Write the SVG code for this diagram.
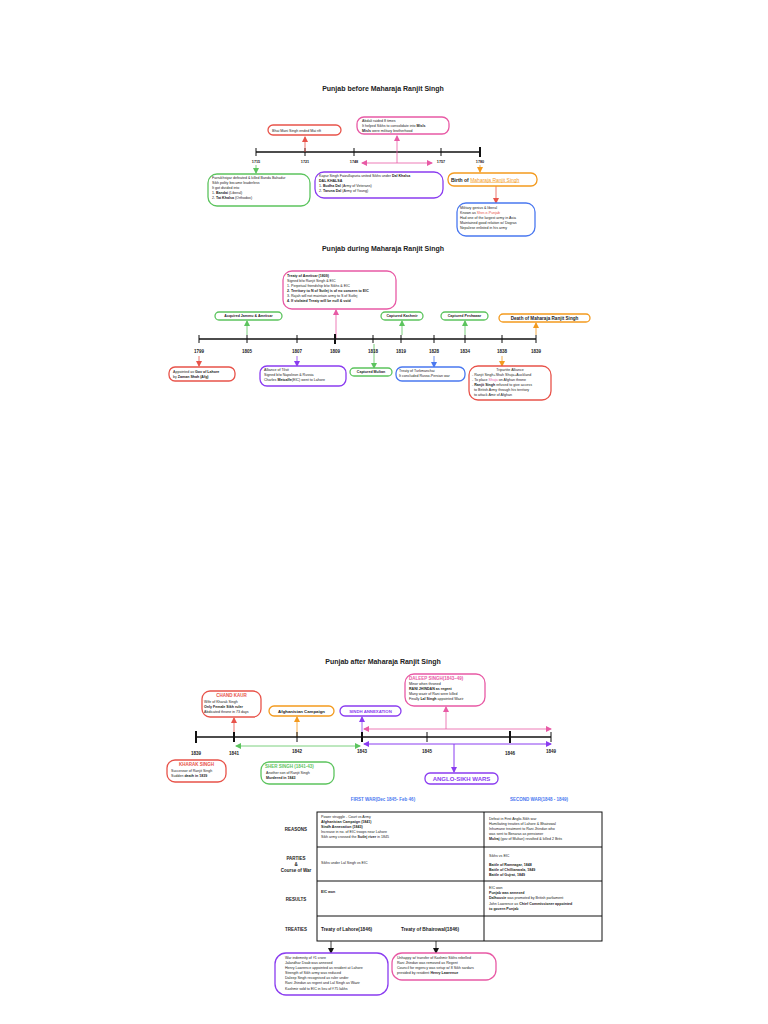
<svg xmlns="http://www.w3.org/2000/svg" width="768" height="1024" viewBox="0 0 768 1024">
<defs>
<style>
text{font-family:"Liberation Sans",Arial,sans-serif;fill:#222}
.t{font-size:7px;font-weight:bold;text-anchor:middle}
.y{font-size:4.5px;font-weight:bold;text-anchor:middle}
.s{font-size:3.6px}
.b{font-weight:bold}
.bx{fill:#fff;stroke-width:1.3}
.red{stroke:#e8534a}.pk{stroke:#e85aa5}.gr{stroke:#5cc45e}.pu{stroke:#8a3cf0}.or{stroke:#f39a1e}.bl{stroke:#4a78f0}
.ln{stroke:#111;stroke-width:1.3}
.tk{stroke:#111;stroke-width:1}
.tkb{stroke:#111;stroke-width:2}
.tb{fill:none;stroke:#111;stroke-width:1}
</style>
<marker id="mr" markerWidth="6" markerHeight="6" refX="5" refY="3" orient="auto-start-reverse" markerUnits="userSpaceOnUse"><path d="M0,0L6,3L0,6z" fill="#e8534a"/></marker>
<marker id="mp" markerWidth="6" markerHeight="6" refX="5" refY="3" orient="auto-start-reverse" markerUnits="userSpaceOnUse"><path d="M0,0L6,3L0,6z" fill="#e85aa5"/></marker>
<marker id="mg" markerWidth="6" markerHeight="6" refX="5" refY="3" orient="auto-start-reverse" markerUnits="userSpaceOnUse"><path d="M0,0L6,3L0,6z" fill="#5cc45e"/></marker>
<marker id="mu" markerWidth="6" markerHeight="6" refX="5" refY="3" orient="auto-start-reverse" markerUnits="userSpaceOnUse"><path d="M0,0L6,3L0,6z" fill="#8a3cf0"/></marker>
<marker id="mo" markerWidth="6" markerHeight="6" refX="5" refY="3" orient="auto-start-reverse" markerUnits="userSpaceOnUse"><path d="M0,0L6,3L0,6z" fill="#f39a1e"/></marker>
<marker id="mb" markerWidth="6" markerHeight="6" refX="5" refY="3" orient="auto-start-reverse" markerUnits="userSpaceOnUse"><path d="M0,0L6,3L0,6z" fill="#4a78f0"/></marker>
<marker id="mk" markerWidth="6" markerHeight="6" refX="5" refY="3" orient="auto-start-reverse" markerUnits="userSpaceOnUse"><path d="M0,0L6,3L0,6z" fill="#111"/></marker>
</defs>
<rect width="768" height="1024" fill="#fff"/>

<!-- Section 1 -->
<text class="t" x="383" y="91">Punjab before Maharaja Ranjit Singh</text>
<g id="timeline1">
<line class="ln" x1="256" y1="152" x2="481" y2="152"/>
<line class="tk" x1="256" y1="148" x2="256" y2="156"/><line class="tk" x1="305" y1="148" x2="305" y2="156"/><line class="tk" x1="354" y1="148" x2="354" y2="156"/><line class="tk" x1="441" y1="148" x2="441" y2="156"/><line class="tkb" x1="480" y1="147" x2="480" y2="157"/>
<text class="y" x="256" y="163" style="font-size:3.8px">1715</text><text class="y" x="305" y="163" style="font-size:3.8px">1721</text><text class="y" x="354" y="163" style="font-size:3.8px">1748</text><text class="y" x="441" y="163" style="font-size:3.8px">1757</text><text class="y" x="480" y="163" style="font-size:3.8px">1780</text>
</g>
<g id="connectors">
<line x1="305" y1="152" x2="305" y2="137" stroke="#e8534a" stroke-width="0.8" marker-end="url(#mr)"/>
<line x1="397" y1="163" x2="397" y2="136" stroke="#e85aa5" stroke-width="0.8" marker-end="url(#mp)"/>
<line x1="362" y1="163" x2="432" y2="163" stroke="#e85aa5" stroke-width="0.8" marker-start="url(#mp)" marker-end="url(#mp)"/>
<line x1="256" y1="165" x2="256" y2="173" stroke="#5cc45e" stroke-width="0.8" marker-end="url(#mg)"/>
<line x1="480" y1="165" x2="480" y2="172" stroke="#f39a1e" stroke-width="0.8" marker-end="url(#mo)"/>
<line x1="496" y1="186" x2="496" y2="203" stroke="#e8534a" stroke-width="0.8" marker-end="url(#mr)"/>

<line x1="336" y1="339" x2="336" y2="310" stroke="#e85aa5" stroke-width="0.8" marker-end="url(#mp)"/>
<line x1="247" y1="335" x2="247" y2="321" stroke="#5cc45e" stroke-width="0.8" marker-end="url(#mg)"/>
<line x1="402" y1="335" x2="402" y2="321" stroke="#5cc45e" stroke-width="0.8" marker-end="url(#mg)"/>
<line x1="465" y1="335" x2="465" y2="321" stroke="#5cc45e" stroke-width="0.8" marker-end="url(#mg)"/>
<line x1="536" y1="335" x2="536" y2="323" stroke="#f39a1e" stroke-width="0.8" marker-end="url(#mo)"/>
<line x1="199" y1="356" x2="199" y2="366" stroke="#e8534a" stroke-width="0.8" marker-end="url(#mr)"/>
<line x1="297" y1="356" x2="297" y2="366" stroke="#8a3cf0" stroke-width="0.8" marker-end="url(#mu)"/>
<line x1="374" y1="344" x2="374" y2="368" stroke="#5cc45e" stroke-width="0.8" marker-end="url(#mg)"/>
<line x1="434" y1="356" x2="434" y2="367" stroke="#4a78f0" stroke-width="0.8" marker-end="url(#mb)"/>
<line x1="502" y1="356" x2="502" y2="366" stroke="#f39a1e" stroke-width="0.8" marker-end="url(#mo)"/>

<line x1="234" y1="737" x2="234" y2="718" stroke="#e8534a" stroke-width="0.8" marker-end="url(#mr)"/>
<line x1="297" y1="737" x2="297" y2="717" stroke="#f39a1e" stroke-width="0.8" marker-end="url(#mo)"/>
<line x1="362" y1="737" x2="362" y2="717" stroke="#8a3cf0" stroke-width="0.8" marker-end="url(#mu)"/>
<line x1="364" y1="729" x2="551" y2="729" stroke="#e85aa5" stroke-width="0.8" marker-start="url(#mp)" marker-end="url(#mp)"/>
<line x1="446" y1="729" x2="446" y2="707" stroke="#e85aa5" stroke-width="0.8" marker-end="url(#mp)"/>
<line x1="364" y1="744" x2="551" y2="744" stroke="#8a3cf0" stroke-width="1" marker-start="url(#mu)" marker-end="url(#mu)"/>
<line x1="454" y1="744" x2="454" y2="772" stroke="#8a3cf0" stroke-width="1" marker-end="url(#mu)"/>
<line x1="236" y1="746" x2="360" y2="746" stroke="#5cc45e" stroke-width="0.8" marker-start="url(#mg)" marker-end="url(#mg)"/>
<line x1="331" y1="941" x2="331" y2="953" stroke="#111" stroke-width="0.8" marker-end="url(#mk)"/>
<line x1="436" y1="941" x2="436" y2="953" stroke="#111" stroke-width="0.8" marker-end="url(#mk)"/>
</g>

<g id="n1"><rect class="bx red" x="268" y="125" width="73" height="10" rx="5"/><text class="s" x="272" y="131.5">Bhai Mani Singh ended Mai rift</text></g>
<g id="n2"><rect class="bx pk" x="357" y="117" width="92" height="17" rx="7"/><text class="s" x="362" y="122">Abdali raided 8 times</text><text class="s" x="362" y="127">It helped Sikhs to consolidate into <tspan class="b">Misls</tspan></text><text class="s" x="362" y="132"><tspan class="b">Misls</tspan> were military brotherhood</text></g>
<g id="n3"><rect class="bx gr" x="208" y="174" width="102" height="32" rx="9"/><text class="s" x="212" y="179">Farrukhsiyar defeated &amp; killed Banda Bahadur</text><text class="s" x="212" y="184">Sikh polity became leaderless</text><text class="s" x="212" y="189">It got divided into</text><text class="s" x="212" y="194">1. <tspan class="b">Bandai</tspan> (Liberal)</text><text class="s" x="212" y="199">2. <tspan class="b">Tat Khalsa</tspan> (Orthodox)</text></g>
<g id="n4"><rect class="bx pu" x="315" y="172" width="128" height="26" rx="9"/><text class="s" x="319" y="177">Kapur Singh Faizullapuria united Sikhs under <tspan class="b">Dal Khalsa</tspan></text><text class="s b" x="319" y="182">DAL KHALSA</text><text class="s" x="319" y="187">1. <tspan class="b">Budha Dal</tspan> (Army of Veterans)</text><text class="s" x="319" y="192">2. <tspan class="b">Taruna Dal</tspan> (Army of Young)</text></g>
<g id="n5"><rect class="bx or" x="448" y="173" width="89" height="13" rx="6"/><text x="451" y="181.5" style="font-size:5px;font-weight:bold">Birth of <tspan fill="#f39a1e" text-decoration="underline" font-weight="normal">Maharaja Ranjit Singh</tspan></text></g>
<g id="n6"><rect class="bx bl" x="457" y="203" width="78" height="33" rx="9"/><text class="s" x="460" y="209">Military genius &amp; liberal</text><text class="s" x="460" y="214">Known as <tspan fill="#e8534a">Sher-e-Punjab</tspan></text><text class="s" x="460" y="219">Had one of the largest army in Asia</text><text class="s" x="460" y="224">Maintained good relation w/ Dogras</text><text class="s" x="460" y="229">Nepalese enlisted in his army</text></g>

<!-- Section 2 -->
<text class="t" x="383" y="251">Punjab during Maharaja Ranjit Singh</text>
<g id="timeline2">
<line class="ln" x1="199" y1="339" x2="536" y2="339"/>
<g class="tk"><line x1="199" y1="335" x2="199" y2="343"/><line x1="247" y1="335" x2="247" y2="343"/><line x1="297" y1="335" x2="297" y2="343"/><line x1="373" y1="335" x2="373" y2="343"/><line x1="401" y1="335" x2="401" y2="343"/><line x1="434" y1="335" x2="434" y2="343"/><line x1="465" y1="335" x2="465" y2="343"/><line x1="502" y1="335" x2="502" y2="343"/><line x1="536" y1="335" x2="536" y2="343"/></g>
<line class="tkb" x1="335" y1="334" x2="335" y2="344"/>
<text class="y" x="199" y="353">1799</text><text class="y" x="247" y="353">1805</text><text class="y" x="297" y="353">1807</text><text class="y" x="335" y="353">1809</text><text class="y" x="373" y="353">1818</text><text class="y" x="401" y="353">1819</text><text class="y" x="434" y="353">1828</text><text class="y" x="465" y="353">1834</text><text class="y" x="502" y="353">1838</text><text class="y" x="536" y="353">1839</text>
</g>
<g id="m1"><rect class="bx pk" x="283" y="271" width="113" height="38" rx="9"/><text class="s b" x="287" y="277">Treaty of Amritsar (1809)</text><text class="s" x="287" y="282">Signed b/w Ranjit Singh &amp; EIC</text><text class="s" x="287" y="287">1. Perpetual friendship b/w Sikhs &amp; EIC</text><text class="s b" x="287" y="292">2. Territory to N of Sutlej is of no concern to EIC</text><text class="s" x="287" y="297">3. Rajah will not maintain army to S of Sutlej</text><text class="s b" x="287" y="302">4. If violated Treaty will be null &amp; void</text></g>
<g id="m2"><rect class="bx gr" x="215" y="312" width="67" height="8" rx="4"/><text class="s b" x="248.5" y="317.3" text-anchor="middle">Acquired Jammu &amp; Amritsar</text></g>
<g id="m3"><rect class="bx gr" x="381" y="312" width="42" height="8" rx="4"/><text class="s b" x="402" y="317.3" text-anchor="middle">Captured Kashmir</text></g>
<g id="m4"><rect class="bx gr" x="441" y="312" width="47" height="8" rx="4"/><text class="s b" x="464.5" y="317.3" text-anchor="middle">Captured Peshawar</text></g>
<g id="m5"><rect class="bx or" x="499" y="314" width="91" height="8" rx="4"/><text x="544.5" y="320" text-anchor="middle" style="font-size:4.6px;font-weight:bold">Death of Maharaja Ranjit Singh</text></g>
<g id="m6"><rect class="bx red" x="169" y="367" width="66" height="14" rx="6"/><text class="s" x="173" y="373">Appointed as <tspan class="b">Gov of Lahore</tspan></text><text class="s" x="173" y="378">by <tspan class="b">Zaman Shah (Afg)</tspan></text></g>
<g id="m7"><rect class="bx pu" x="260" y="366" width="86" height="20" rx="7"/><text class="s" x="264" y="371" fill="#8a3cf0">Alliance of Tilsit</text><text class="s" x="264" y="376">Signed b/w Napoleon &amp; Russia</text><text class="s" x="264" y="381">Charles <tspan class="b">Metcalfe</tspan>(EIC) went to Lahore</text></g>
<g id="m8"><rect class="bx gr" x="350" y="368" width="42" height="8" rx="4"/><text class="s b" x="371" y="373.3" text-anchor="middle">Captured Multan</text></g>
<g id="m9"><rect class="bx bl" x="396" y="367" width="69" height="14" rx="6"/><text class="s" x="399" y="372" fill="#4a78f0">Treaty of Turkmanchai</text><text class="s" x="399" y="377">It concluded Russo-Persian war</text></g>
<g id="m10"><rect class="bx red" x="469" y="366" width="82" height="34" rx="9"/><text class="s" x="510" y="371" fill="#e85aa5" text-anchor="middle">Tripartite Alliance</text><text class="s" x="472" y="376">- Ranjit Singh+Shah Shuja+Auckland</text><text class="s" x="472" y="381">- To place <tspan fill="#e85aa5">Shuja</tspan> on Afghan throne</text><text class="s" x="472" y="386">- <tspan class="b">Ranjit Singh</tspan> refused to give access</text><text class="s" x="474" y="391">to British Army through his territory</text><text class="s" x="474" y="396">to attack Amir of Afghan</text></g>

<!-- Section 3 -->
<text class="t" x="383" y="664">Punjab after Maharaja Ranjit Singh</text>
<g id="timeline3">
<line class="ln" x1="196" y1="737" x2="551" y2="737"/>
<line class="tkb" x1="196" y1="731" x2="196" y2="743"/><line class="tkb" x1="234" y1="732" x2="234" y2="742"/><line class="tk" x1="297" y1="732" x2="297" y2="742"/><line class="tkb" x1="362" y1="732" x2="362" y2="742"/><line class="tk" x1="427" y1="732" x2="427" y2="742"/><line class="tkb" x1="510" y1="731" x2="510" y2="743"/><line class="tk" x1="551" y1="732" x2="551" y2="742"/>
<text class="y" x="196" y="755">1839</text><text class="y" x="234" y="755">1841</text><text class="y" x="297" y="753">1842</text><text class="y" x="362" y="753">1843</text><text class="y" x="427" y="753">1845</text><text class="y" x="510" y="755">1846</text><text class="y" x="551" y="753">1849</text>
</g>
<g id="p1"><rect class="bx red" x="202" y="691" width="59" height="26" rx="8"/><text x="231.5" y="697" text-anchor="middle" style="font-size:4.5px;font-weight:bold;fill:#e8534a">CHAND KAUR</text><text class="s" x="204" y="703">Wife of Kharak Singh</text><text class="s b" x="204" y="708">Only Female Sikh ruler</text><text class="s" x="204" y="713">Abdicated throne in 73 days</text></g>
<g id="p2"><rect class="bx or" x="269" y="706" width="65" height="10" rx="5"/><text x="301.5" y="712.8" text-anchor="middle" style="font-size:4.3px;font-weight:bold">Afghanistan Campaign</text></g>
<g id="p3"><rect class="bx pu" x="340" y="706" width="61" height="10" rx="5"/><text x="370.5" y="712.8" text-anchor="middle" style="font-size:4.3px;font-weight:bold;fill:#8a3cf0">SINDH ANNEXATION</text></g>
<g id="p4"><rect class="bx pk" x="405" y="674" width="80" height="32" rx="9"/><text x="409" y="679.5" style="font-size:4.5px;font-weight:bold;fill:#e85aa5">DALEEP SINGH(1843–49)</text><text class="s" x="409" y="685">Minor when throned</text><text class="s b" x="409" y="690">RANI JHINDAN as regent</text><text class="s" x="409" y="695">Many wazir of Rani were killed</text><text class="s" x="409" y="700">Finally <tspan class="b">Lal Singh</tspan> appointed Wazir</text></g>
<g id="p5"><rect class="bx red" x="167" y="760" width="59" height="22" rx="8"/><text x="196.5" y="766" text-anchor="middle" style="font-size:4.5px;font-weight:bold;fill:#e8534a">KHARAK SINGH</text><text class="s" x="171" y="772">Successor of Ranjit Singh</text><text class="s" x="171" y="777">Sudden <tspan class="b">death in 1839</tspan></text></g>
<g id="p6"><rect class="bx gr" x="261" y="762" width="73" height="22" rx="8"/><text x="265" y="768" style="font-size:4.5px;font-weight:bold;fill:#5cc45e">SHER SINGH (1841-43)</text><text class="s" x="266" y="774">Another son of Ranjit Singh</text><text class="s b" x="266" y="779">Murdered in 1843</text></g>
<g id="p7"><rect class="bx pu" x="425" y="773" width="73" height="11" rx="5"/><text x="461.5" y="781" text-anchor="middle" style="font-size:6px;font-weight:bold;fill:#8a3cf0">ANGLO-SIKH WARS</text></g>

<text x="383" y="801" text-anchor="middle" style="font-size:4.5px;font-weight:bold;fill:#4a78f0">FIRST WAR(Dec 1845- Feb 46)</text>
<text x="539" y="801" text-anchor="middle" style="font-size:4.5px;font-weight:bold;fill:#4a78f0">SECOND WAR(1848 - 1849)</text>

<g id="table">
<rect class="tb" x="317" y="812" width="285" height="129"/>
<line class="tb" x1="484" y1="812" x2="484" y2="941"/>
<line class="tb" x1="317" y1="847" x2="602" y2="847"/><line class="tb" x1="317" y1="881" x2="602" y2="881"/><line class="tb" x1="317" y1="916" x2="602" y2="916"/>
<text class="y" x="296" y="831">REASONS</text>
<text class="y" x="296" y="860">PARTIES</text><text class="y" x="296" y="866">&amp;</text><text class="y" x="296" y="872">Course of War</text>
<text class="y" x="296" y="901">RESULTS</text>
<text class="y" x="296" y="931">TREATIES</text>
<text class="s" x="321" y="818">Power struggle - Court vs Army</text><text class="s b" x="321" y="823">Afghanistan Campaign (1841)</text><text class="s b" x="321" y="828">Sindh Annexation (1843)</text><text class="s" x="321" y="833">Increase in no. of EIC troops near Lahore</text><text class="s" x="321" y="838">Sikh army crossed the <tspan class="b">Sutlej river</tspan> in 1845</text>
<text class="s" x="321" y="864">Sikhs under Lal Singh vs EIC</text>
<text class="s b" x="321" y="893">EIC won</text>
<text x="321" y="931" style="font-size:4.8px;font-weight:bold">Treaty of Lahore(1846)</text>
<text x="401" y="931" style="font-size:4.8px;font-weight:bold">Treaty of Bhairowal(1846)</text>
<text class="s" x="489" y="820">Defeat in First Anglo-Sikh war</text><text class="s" x="489" y="825">Humiliating treaties of Lahore &amp; Bhairowal</text><text class="s" x="489" y="830">Inhumane treatment to Rani Jhindan who</text><text class="s" x="489" y="835">was sent to Benaras as pensioner</text><text class="s" x="489" y="840"><tspan class="b">Mulraj</tspan> (gov of Multan) revolted &amp; killed 2 Brits</text>
<text class="s" x="489" y="857">Sikhs vs EIC</text><text class="s b" x="489" y="866">Battle of Ramnagar, 1848</text><text class="s b" x="489" y="871">Battle of Chillianwala, 1849</text><text class="s b" x="489" y="876">Battle of Gujrat, 1849</text>
<text class="s" x="489" y="889">EIC won</text><text class="s b" x="489" y="894">Punjab was annexed</text><text class="s" x="489" y="899"><tspan class="b">Dalhousie</tspan> was promoted by British parliament</text><text class="s" x="489" y="905">John Lawrence as <tspan class="b">Chief Commissioner appointed</tspan></text><text class="s b" x="489" y="910">to govern Punjab</text>
</g>
<g id="q1"><rect class="bx pu" x="275" y="953" width="113" height="42" rx="11"/><text class="s" x="285" y="959">War indemnity of ₹1 crore</text><text class="s" x="285" y="964">Jalandhar Doab was annexed</text><text class="s" x="285" y="969">Henry Lawrence appointed as resident at Lahore</text><text class="s" x="285" y="974">Strength of Sikh army was reduced</text><text class="s" x="285" y="979">Daleep Singh recognised as ruler under</text><text class="s" x="285" y="984">Rani Jhindan as regent and Lal Singh as Wazir</text><text class="s" x="285" y="990">Kashmir sold to EIC in lieu of ₹75 lakhs</text></g>
<g id="q2"><rect class="bx pk" x="392" y="953" width="104" height="27" rx="10"/><text class="s" x="397" y="959">Unhappy w/ transfer of Kashmir Sikhs rebelled</text><text class="s" x="397" y="964">Rani Jhindan was removed as Regent</text><text class="s" x="397" y="969">Council for regency was setup w/ 8 Sikh sardars</text><text class="s" x="397" y="974">presided by resident <tspan class="b">Henry Lawrence</tspan></text></g>
</svg>
